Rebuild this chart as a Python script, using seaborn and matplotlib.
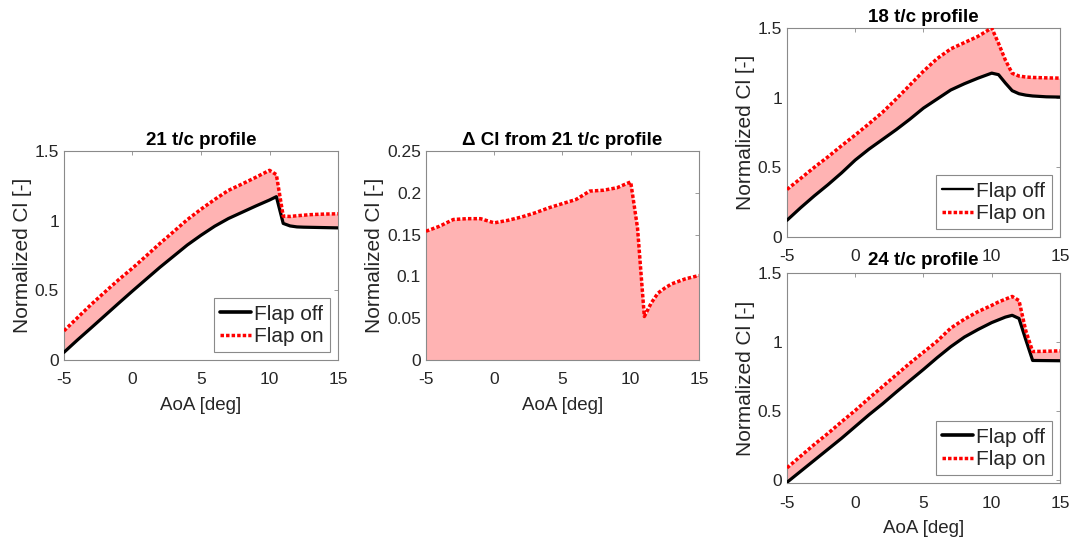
import matplotlib
matplotlib.use("Agg")
import matplotlib.pyplot as plt
import seaborn as sns
import pandas as pd

# Angle of attack grid [deg]
aoa = [-5, -4, -3, -2, -1, 0, 1, 2, 3, 4, 5, 6, 7, 8, 9, 10,
       10.5, 11, 11.5, 12, 12.5, 13, 14, 15]

# 21 t/c profile: normalized Cl with flap off, and lift gain from the flap
cl21_off = [0.055, 0.145, 0.232, 0.32, 0.408, 0.495, 0.58, 0.665, 0.745, 0.825,
            0.895, 0.96, 1.015, 1.06, 1.105, 1.148, 1.172, 0.98, 0.962, 0.955,
            0.953, 0.952, 0.95, 0.948]
dcl21 = [0.154, 0.160, 0.168, 0.169, 0.169, 0.164, 0.167, 0.171, 0.176, 0.182,
         0.187, 0.192, 0.202, 0.203, 0.206, 0.213, 0.158, 0.052, 0.068, 0.080,
         0.086, 0.091, 0.097, 0.101]
cl21_on = [a + d for a, d in zip(cl21_off, dcl21)]

# 18 t/c profile
cl18_off = [0.12, 0.21, 0.295, 0.375, 0.46, 0.552, 0.63, 0.70, 0.77, 0.845,
            0.925, 0.99, 1.055, 1.10, 1.14, 1.176, 1.165, 1.105, 1.05, 1.028,
            1.018, 1.012, 1.006, 1.004]
cl18_on = [0.341, 0.42, 0.50, 0.575, 0.655, 0.732, 0.812, 0.895, 0.99, 1.09,
           1.19, 1.28, 1.35, 1.395, 1.44, 1.50, 1.39, 1.27, 1.175, 1.155,
           1.148, 1.145, 1.142, 1.14]

# 24 t/c profile
cl24_off = [-0.02, 0.06, 0.14, 0.22, 0.30, 0.385, 0.47, 0.55, 0.635, 0.718,
            0.80, 0.885, 0.965, 1.035, 1.09, 1.14, 1.16, 1.18, 1.193, 1.17,
            1.015, 0.865, 0.864, 0.863]
cl24_on = [0.085, 0.17, 0.255, 0.335, 0.42, 0.502, 0.59, 0.675, 0.76, 0.845,
           0.925, 1.005, 1.10, 1.165, 1.22, 1.265, 1.29, 1.31, 1.33, 1.30,
           1.08, 0.93, 0.932, 0.935]

xticks = [-5, 0, 5, 10, 15]
yticks_cl = [0, 0.5, 1, 1.5]
yticks_dcl = [0, 0.05, 0.1, 0.15, 0.2, 0.25]

sns.set_style("white")
plt.rcParams["font.family"] = ["Liberation Sans", "DejaVu Sans"]
plt.rcParams["axes.linewidth"] = 0.8

FILL = "#ffb3b3"
RED = "#ff0000"
TXT = "#262626"
EDGE = "#8a8a8a"
DOTS = (0, (1, 0.6))

fig = plt.figure(figsize=(10.70, 5.38), dpi=100)
ax_l = fig.add_axes([0.0598, 0.3309, 0.2561, 0.3885])
ax_m = fig.add_axes([0.3981, 0.3309, 0.2551, 0.3885])
ax_tr = fig.add_axes([0.7355, 0.5595, 0.2551, 0.3885])
ax_br = fig.add_axes([0.7355, 0.1022, 0.2551, 0.3903])


def style_axes(ax, ylim, yticks, title, xlabel=True, title_box=False):
    ax.set_xlim(-5, 15)
    ax.set_ylim(*ylim)
    ax.set_xticks(xticks)
    ax.set_xticklabels([f"{t:g}" for t in xticks])
    ax.set_yticks(yticks)
    ax.set_yticklabels([f"{t:g}" for t in yticks])
    ax.tick_params(direction="in", length=3, width=0.6, colors=EDGE,
                   labelcolor=TXT, labelsize=12.5, top=True, right=True)
    ax.tick_params(axis="x", pad=9)
    ax.tick_params(axis="y", pad=3.5)
    for s in ax.spines.values():
        s.set_color(EDGE)
        s.set_linewidth(0.8)
    ax.set_ylabel("Normalized Cl [-]", fontsize=15, color=TXT, labelpad=2)
    if xlabel:
        ax.set_xlabel("AoA [deg]", fontsize=13.5, color=TXT, labelpad=6.5)
    else:
        ax.set_xlabel("")
    t = ax.set_title(title, fontsize=13.5, fontweight="bold", color="black",
                     pad=6 if title_box else 4.5)
    if title_box:
        # opaque title background, drawn over the tick labels of the panel above
        t.set_bbox(dict(facecolor="white", edgecolor="none", pad=2.5))


def profile_panel(ax, cl_off, cl_on, title, xlabel=True, title_box=False,
                  off_lw=2.6):
    df = pd.DataFrame({"aoa": aoa, "off": cl_off, "on": cl_on})
    ax.fill_between(df["aoa"], df["off"], df["on"], color=FILL, linewidth=0,
                    zorder=1)
    sns.lineplot(data=df, x="aoa", y="off", ax=ax, color="black",
                 linewidth=2.3, label="Flap off", zorder=3)
    sns.lineplot(data=df, x="aoa", y="on", ax=ax, color=RED,
                 linewidth=2.5, linestyle=DOTS, label="Flap on", zorder=4)
    leg = ax.legend(loc="lower right", fontsize=15, frameon=True,
                    fancybox=False, edgecolor=EDGE, framealpha=1,
                    handlelength=1.5, handletextpad=0.15, borderpad=0.3,
                    labelspacing=0.15, borderaxespad=0.38)
    leg.get_frame().set_linewidth(0.8)
    leg.get_lines()[0].set_linewidth(off_lw)
    style_axes(ax, (0, 1.5), yticks_cl, title, xlabel, title_box)


profile_panel(ax_l, cl21_off, cl21_on, "21 t/c profile")
profile_panel(ax_tr, cl18_off, cl18_on, "18 t/c profile", xlabel=False,
              off_lw=1.7)
profile_panel(ax_br, cl24_off, cl24_on, "24 t/c profile", title_box=True)
ax_br.set_ylim(-0.025, 1.5)

# Lift increment of the 21 t/c profile
dfd = pd.DataFrame({"aoa": aoa, "dcl": dcl21})
ax_m.fill_between(dfd["aoa"], 0, dfd["dcl"], color=FILL, linewidth=0,
                  zorder=1)
sns.lineplot(data=dfd, x="aoa", y="dcl", ax=ax_m, color=RED, linewidth=2.5,
             linestyle=DOTS, zorder=4)
style_axes(ax_m, (0, 0.25), yticks_dcl, "Δ Cl from 21 t/c profile")

fig.savefig("out.png", dpi=100, facecolor="white")
